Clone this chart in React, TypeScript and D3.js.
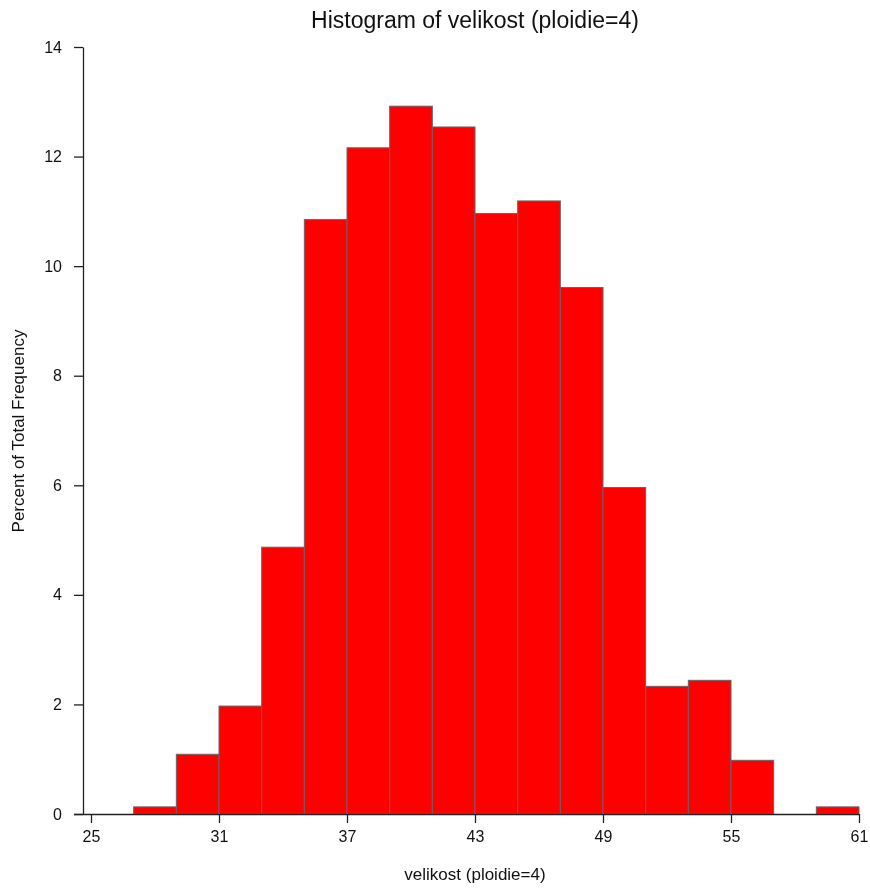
import React, { useEffect, useRef } from "react";
import * as d3 from "d3";

// bin edges (width 2) and percent of total frequency per bin
const binStarts = [27, 29, 31, 33, 35, 37, 39, 41, 43, 45, 47, 49, 51, 53, 55, 57, 59];
const percents = [0.13, 1.09, 1.97, 4.87, 10.85, 12.16, 12.92, 12.54, 10.96, 11.19, 9.61, 5.96, 2.33, 2.44, 0.98, 0, 0.13];
const xTicks = [25, 31, 37, 43, 49, 55, 61];
const yTicks = [0, 2, 4, 6, 8, 10, 12, 14];

const W = 870;
const H = 888;
const margin = { left: 83, right: 11, top: 47, bottom: 74 };

function Histogram() {
  const ref = useRef<SVGSVGElement>(null);

  useEffect(() => {
    const svg = d3.select(ref.current);
    svg.selectAll("*").remove();

    const x = d3.scaleLinear().domain([25, 61]).range([91, W - margin.right]);
    const y = d3.scaleLinear().domain([0, 14]).range([H - margin.bottom, margin.top]);
    const font = "'Liberation Sans', Arial, sans-serif";

    const bins = binStarts.map((s, i) => ({ x0: s, x1: s + 2, v: percents[i] }));

    svg
      .append("g")
      .selectAll("rect")
      .data(bins.filter(d => d.v > 0))
      .enter()
      .append("rect")
      .attr("x", d => x(d.x0))
      .attr("width", d => x(d.x1) - x(d.x0))
      .attr("y", d => y(d.v))
      .attr("height", d => y(0) - y(d.v))
      .attr("fill", "#ff0000")
      .attr("stroke", "#666666")
      .attr("stroke-width", 1);

    // x axis
    const gx = svg
      .append("g")
      .attr("transform", `translate(0,${y(0)})`)
      .call(d3.axisBottom(x).tickValues(xTicks).tickSize(9).tickPadding(8).tickSizeOuter(0));
    gx.select(".domain").attr("d", `M74,0.5H${x(61)}`).attr("stroke", "#222").attr("stroke-width", 1.3);
    gx.selectAll(".tick line").attr("stroke", "#222").attr("stroke-width", 1.3);
    gx.selectAll("text").attr("font-family", font).attr("font-size", 16).attr("fill", "#111");

    // y axis
    const gy = svg
      .append("g")
      .attr("transform", `translate(${margin.left},0)`)
      .call(d3.axisLeft(y).tickValues(yTicks).tickSize(9).tickPadding(12).tickSizeOuter(0));
    gy.select(".domain").attr("stroke", "#222").attr("stroke-width", 1.3);
    gy.selectAll(".tick line").attr("stroke", "#222").attr("stroke-width", 1.3);
    gy.selectAll("text").attr("font-family", font).attr("font-size", 16).attr("fill", "#111");

    svg
      .append("text")
      .attr("x", 475)
      .attr("y", 28)
      .attr("text-anchor", "middle")
      .attr("font-family", font)
      .attr("font-size", 23)
      .attr("fill", "#111")
      .text("Histogram of velikost (ploidie=4)");

    svg
      .append("text")
      .attr("x", 475)
      .attr("y", 880)
      .attr("text-anchor", "middle")
      .attr("font-family", font)
      .attr("font-size", 17)
      .attr("fill", "#111")
      .text("velikost (ploidie=4)");

    svg
      .append("text")
      .attr("transform", `translate(24,431) rotate(-90)`)
      .attr("text-anchor", "middle")
      .attr("font-family", font)
      .attr("font-size", 17)
      .attr("fill", "#111")
      .text("Percent of Total Frequency");
  }, []);

  return (
    <svg
      ref={ref}
      width={W}
      height={H}
      style={{ position: "fixed", left: 0, top: 0, display: "block" }}
    />
  );
}

export default function App() {
  return <Histogram />;
}
